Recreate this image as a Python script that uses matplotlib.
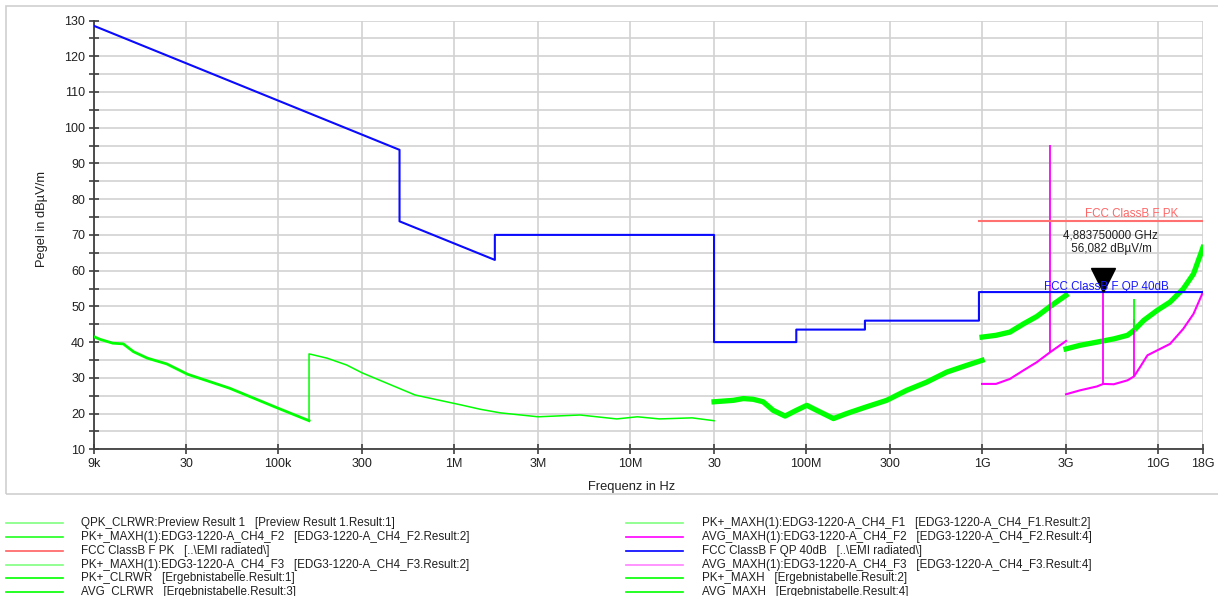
import numpy as np
import matplotlib
matplotlib.use("Agg")
import matplotlib.pyplot as plt
import matplotlib.transforms as mtransforms
from matplotlib.lines import Line2D
from matplotlib.patches import Rectangle

plt.rcParams['font.family'] = ['Liberation Sans', 'DejaVu Sans']
plt.rcParams['font.size'] = 8.5

# limit lines
qp_limit_freq = [9e3, 490e3, 490e3, 1.705e6, 1.705e6, 30e6, 30e6, 88e6, 88e6, 216e6, 216e6, 960e6, 960e6, 18e9]
qp_limit_level = [128.5, 93.8, 73.8, 63.0, 70.0, 70.0, 40.0, 40.0, 43.5, 43.5, 46.0, 46.0, 54.0, 54.0]
pk_limit_freq = [960e6, 18e9]
pk_limit_level = [74.0, 74.0]

# green scans
scan_a_freq = [9.0e3, 9.7e3, 11.5e3, 13.2e3, 15.1e3, 18.1e3, 23.3e3, 30.6e3, 53e3, 100e3, 150e3]
scan_a_level = [41.5, 40.8, 39.7, 39.5, 37.3, 35.5, 33.9, 31.0, 27.1, 21.5, 18.0]
scan_b_freq = [150e3, 150e3, 190e3, 245e3, 300e3, 600e3, 1.1e6, 1.41e6, 1.83e6, 3.0e6, 5.2e6, 8.4e6, 11e6,
               14.7e6, 22.5e6, 30e6]
scan_b_level = [18.0, 36.7, 35.5, 33.6, 31.4, 25.2, 22.4, 21.2, 20.2, 19.1, 19.6, 18.5, 19.1,
                18.5, 18.8, 18.0]
scan_c_freq = [30e6, 38.6e6, 44e6, 50e6, 57e6, 65e6, 76e6, 88e6, 101e6, 115e6, 143e6, 170e6,
               221e6, 287e6, 373e6, 485e6, 630e6, 819e6, 1.0e9]
scan_c_level = [23.3, 23.7, 24.2, 24.0, 23.3, 20.9, 19.3, 20.9, 22.3, 20.9, 18.6, 20.0,
                21.9, 23.7, 26.5, 28.8, 31.6, 33.5, 34.9]
scan_d_freq = [1.0e9, 1.2e9, 1.44e9, 1.72e9, 2.05e9, 2.44e9, 3.0e9]
scan_d_level = [41.4, 41.9, 42.8, 45.1, 47.2, 50.0, 53.1]
scan_e_freq = [3.0e9, 3.6e9, 4.5e9, 5.6e9, 6.7e9, 7.3e9, 8.3e9, 9.9e9, 11.7e9, 13.9e9, 15.9e9, 18e9]
scan_e_level = [38.1, 39.1, 40.0, 40.9, 41.9, 43.3, 46.1, 48.9, 51.2, 54.9, 59.1, 66.5]

# magenta average scans
avg_f2_freq = [1.0e9, 1.2e9, 1.44e9, 1.72e9, 2.05e9, 2.44e9, 3.0e9]
avg_f2_level = [28.3, 28.3, 29.7, 32.1, 34.4, 37.2, 40.3]
avg_f3_freq = [3.0e9, 3.6e9, 4.5e9, 4.88e9, 5.6e9, 6.7e9, 7.3e9, 7.9e9, 8.7e9, 9.9e9, 11.7e9, 13.9e9, 15.9e9, 18e9]
avg_f3_level = [25.4, 26.5, 27.6, 28.3, 28.2, 29.3, 30.4, 33.0, 36.3, 37.7, 39.5, 43.7, 47.9, 54.0]

# single spikes
spike_freq = [2.44e9, 4.88375e9, 7.3e9, 7.3e9]
spike_base = [37.2, 28.3, 30.4, 43.3]
spike_top = [95.2, 56.1, 46.5, 52.1]
spike_color = ['#ff00ff', '#ff00ff', '#ff00ff', '#00ff00']

marker_freq = 4.88375e9
marker_level = 56.082

tick_freq = [9e3, 30e3, 100e3, 300e3, 1e6, 3e6, 10e6, 30e6, 100e6, 300e6, 1e9, 3e9, 10e9, 18e9]
tick_labels = ['9k', '30', '100k', '300', '1M', '3M', '10M', '30', '100M', '300', '1G', '3G', '10G', '18G']

legend_left = ['QPK_CLRWR:Preview Result 1   [Preview Result 1.Result:1]',
               'PK+_MAXH(1):EDG3-1220-A_CH4_F2   [EDG3-1220-A_CH4_F2.Result:2]',
               'FCC ClassB F PK   [..\\EMI radiated\\]',
               'PK+_MAXH(1):EDG3-1220-A_CH4_F3   [EDG3-1220-A_CH4_F3.Result:2]',
               'PK+_CLRWR   [Ergebnistabelle.Result:1]',
               'AVG_CLRWR   [Ergebnistabelle.Result:3]']
legend_left_colors = ['#80ff80', '#20ff20', '#ff6060', '#80ff80', '#00ff00', '#00ff00']
legend_right = ['PK+_MAXH(1):EDG3-1220-A_CH4_F1   [EDG3-1220-A_CH4_F1.Result:2]',
                'AVG_MAXH(1):EDG3-1220-A_CH4_F2   [EDG3-1220-A_CH4_F2.Result:4]',
                'FCC ClassB F QP 40dB   [..\\EMI radiated\\]',
                'AVG_MAXH(1):EDG3-1220-A_CH4_F3   [EDG3-1220-A_CH4_F3.Result:4]',
                'PK+_MAXH   [Ergebnistabelle.Result:2]',
                'AVG_MAXH   [Ergebnistabelle.Result:4]']
legend_right_colors = ['#80ff80', '#ff00ff', '#0000ff', '#ff80ff', '#00ff00', '#00ff00']

W, H = 1218, 596
fig = plt.figure(figsize=(W / 100, H / 100), dpi=100)
ax = fig.add_axes([94 / W, 146.7 / H, 1109 / W, 428.8 / H])

# outer light frame
fig.patches.append(Rectangle((6 / W, (H - 494) / H), 1.2, 488 / H, transform=fig.transFigure,
                             fill=False, edgecolor='#cfcfcf', lw=1.2, clip_on=False))

green = '#00ff00'
ax.plot(scan_a_freq, scan_a_level, color=green, lw=2.0, zorder=3)
ax.plot(scan_b_freq, scan_b_level, color=green, lw=1.1, zorder=3)
ax.plot(scan_c_freq, scan_c_level, color=green, lw=3.8, zorder=3)
ax.plot(scan_d_freq, scan_d_level, color=green, lw=3.8, zorder=3)
ax.plot(scan_e_freq, scan_e_level, color=green, lw=3.8, zorder=3)
ax.plot(avg_f2_freq, avg_f2_level, color='#ff00ff', lw=1.5, zorder=4)
ax.plot(avg_f3_freq, avg_f3_level, color='#ff00ff', lw=1.5, zorder=4)
ax.vlines(spike_freq, spike_base, spike_top, colors=spike_color, lw=1.3, zorder=4)

ax.plot(qp_limit_freq, qp_limit_level, color='#0a0aff', lw=1.5, zorder=5)
ax.plot(pk_limit_freq, pk_limit_level, color='#ff7070', lw=1.5, zorder=5)

# marker
tri = mtransforms.offset_copy(ax.transData, fig=fig, y=3, units='points')
ax.plot([marker_freq], [marker_level], marker='v', ms=17, color='black', transform=tri, zorder=6)
mtext = f"{marker_freq / 1e9:.9f} GHz\n {marker_level:.3f} dBµV/m".replace('.', ',')
ax.annotate(mtext, xy=(marker_freq, marker_level), xytext=(5, 21), textcoords='offset points',
            ha='center', va='bottom', multialignment='center', fontsize=8.4, color='#202020', zorder=7)

blend = mtransforms.blended_transform_factory(ax.transAxes, ax.transData)
ax.annotate('FCC ClassB F PK', xy=(0.9775, pk_limit_level[0]), xycoords=blend, xytext=(0, 2.5),
            textcoords='offset points', ha='right', va='baseline', color='#ff6666', fontsize=8.4, zorder=7)
ax.annotate('FCC ClassB F QP 40dB', xy=(0.9693, qp_limit_level[-1]), xycoords=blend, xytext=(0, 1.2),
            textcoords='offset points', ha='right', va='baseline', color='#1a1aff', fontsize=8.4, zorder=7)

ax.set_xscale('log')
ax.set_xlim(9e3, 18e9)
ax.set_ylim(10, 130)
ax.set_xticks(tick_freq)
ax.set_xticklabels(tick_labels)
ax.xaxis.set_minor_locator(matplotlib.ticker.NullLocator())
ax.set_yticks(np.arange(10, 131, 10))
ax.set_yticks(np.arange(15, 130, 10), minor=True)
ax.grid(True, which='major', axis='both', color='#d2d2d2', lw=1.2, zorder=0)
ax.grid(True, which='minor', axis='y', color='#d2d2d2', lw=1.2, zorder=0)
ax.set_axisbelow(True)
ax.tick_params(axis='both', which='both', direction='inout', length=7, width=1.2, color='#404040',
               labelsize=9, labelcolor='#202020')
ax.tick_params(axis='y', pad=3)
ax.tick_params(axis='x', pad=3)
for s in ['top', 'right']:
    ax.spines[s].set_visible(False)
for s in ['left', 'bottom']:
    ax.spines[s].set_color('#404040')
    ax.spines[s].set_linewidth(1.3)

fig.text(632 / W, (H - 487) / H, 'Frequenz in Hz', ha='center', va='center', fontsize=9.3, color='#202020')
fig.text(42 / W, (H - 219) / H, 'Pegel in dBµV/m', rotation=90, ha='center', va='center',
         fontsize=9.3, color='#202020')

# legend rows below chart
row_y = [523, 537, 551, 565, 578, 592]
for i in range(6):
    y = (H - row_y[i]) / H
    fig.add_artist(Line2D([6 / W, 63 / W], [y, y], color=legend_left_colors[i], lw=1.2,
                          transform=fig.transFigure))
    fig.text(81 / W, y, legend_left[i], ha='left', va='center', fontsize=8.4, color='#202020')
    fig.add_artist(Line2D([626 / W, 683 / W], [y, y], color=legend_right_colors[i], lw=1.2,
                          transform=fig.transFigure))
    fig.text(702 / W, y, legend_right[i], ha='left', va='center', fontsize=8.4, color='#202020')

fig.savefig('out.png', dpi=100)
